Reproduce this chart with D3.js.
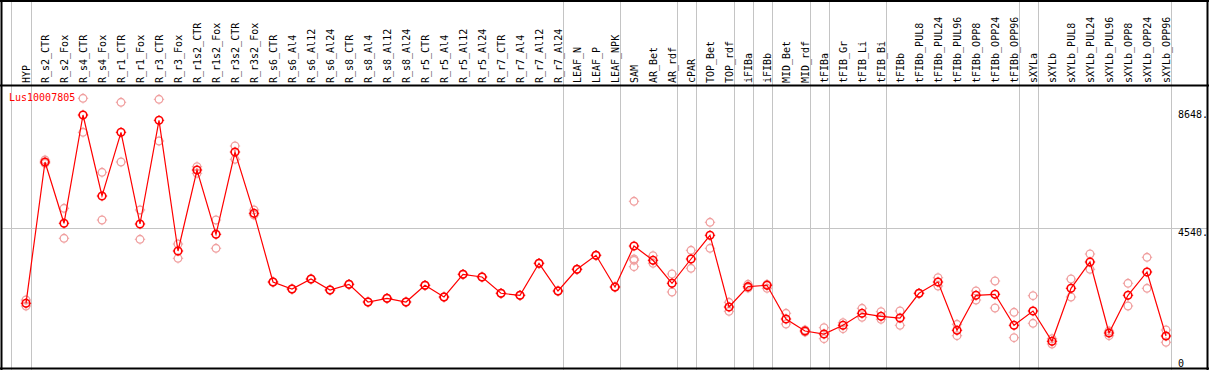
<!DOCTYPE html>
<html><head><meta charset="utf-8">
<script src="https://cdn.jsdelivr.net/npm/d3@7"></script>
<style>html,body{margin:0;padding:0;background:#fff;}svg{display:block;}</style>
</head><body>
<svg id="chart" width="1209" height="370"></svg>
<script>
const categories = ["HYP","R_s2_CTR","R_s2_Fox","R_s4_CTR","R_s4_Fox","R_r1_CTR","R_r1_Fox","R_r3_CTR","R_r3_Fox","R_r1s2_CTR","R_r1s2_Fox","R_r3s2_CTR","R_r3s2_Fox","R_s6_CTR","R_s6_Al4","R_s6_Al12","R_s6_Al24","R_s8_CTR","R_s8_Al4","R_s8_Al12","R_s8_Al24","R_r5_CTR","R_r5_Al4","R_r5_Al12","R_r5_Al24","R_r7_CTR","R_r7_Al4","R_r7_Al12","R_r7_Al24","LEAF_N","LEAF_P","LEAF_NPK","SAM","AR_Bet","AR_rdf","cPAR","TOP_Bet","TOP_rdf","iFIBa","iFIBb","MID_Bet","MID_rdf","tFIBa","tFIB_Gr","tFIB_Li","tFIB_Bi","tFIBb","tFIBb_PUL8","tFIBb_PUL24","tFIBb_PUL96","tFIBb_OPP8","tFIBb_OPP24","tFIBb_OPP96","sXYLa","sXYLb","sXYLb_PUL8","sXYLb_PUL24","sXYLb_PUL96","sXYLb_OPP8","sXYLb_OPP24","sXYLb_OPP96"];
const meanValues = [1934,6842,4713,8474,5661,7873,4689,8290,3751,6564,4331,7189,5060,2674,2431,2778,2396,2594,1980,2108,1980,2560,2153,2942,2848,2282,2212,3324,2362,3115,3602,2501,3924,3428,2629,3473,4296,1806,2511,2560,1389,972,868,1170,1587,1483,1424,2282,2674,997,2212,2247,1170,1667,615,2455,3369,903,2212,3022,799];
const replicateValues = [[2049,1841],[6911,6797],[5234,4192],[9054,7873],[6484,4827],[8915,6842],[5177,4157],[9019,7571],[3994,3497],[6679,6449],[4827,3845],[7397,6936],[5177,5001],[2674,2674],[2431,2431],[2778,2778],[2396,2396],[2594,2594],[1980,1980],[2108,2108],[1980,1980],[2560,2560],[2153,2153],[2942,2942],[2848,2848],[2282,2282],[2212,2212],[3324,3324],[2362,2362],[3115,3115],[3602,3602],[2501,2501],[5477,3473,3428,3206],[3588,3324],[2952,2327],[3775,3150],[4748,3845],[1969,1657],[2594,2466],[2594,2455],[1587,1216],[1007,938],[1087,705],[1261,1052],[1761,1448],[1643,1379],[1667,1170],[2282,2282],[2824,2535],[1205,809],[2362,2049],[2709,1771],[1622,740],[2198,1240],[705,521],[2778,2153],[3647,3115],[972,809],[2629,1841],[3532,2455],[1007,580]];
const separatorsAfter = ["HYP","R_r7_Al24","LEAF_NPK","AR_rdf","cPAR","TOP_rdf","iFIBa","iFIBb","MID_rdf","tFIBa","tFIB_Bi","tFIBb_OPP96","sXYLa","sXYLb_OPP96"];
const tickValues = [0, 4540, 8648];
const tickLabels = ["0", "4540.", "8648."];
const geneName = "Lus10007805";

const svg = d3.select("#chart");
const W = 1209, H = 370;
const headerBottom = 85.5;
const x = d3.scalePoint().domain(categories).range([26, 1166]);
const y = d3.scaleLinear().domain([0, 8648]).range([359, 110]);
const font = "'DejaVu Sans Mono', monospace";
const gray = "#c4c4c4";

// gray vertical separators
const sepX = [x(categories[0]) - 15.3].concat(separatorsAfter.map(c => x(c) + 4.7));
svg.append("g").selectAll("line").data(sepX).join("line")
  .attr("x1", d => Math.round(d) + 0.5).attr("x2", d => Math.round(d) + 0.5)
  .attr("y1", 0).attr("y2", H)
  .attr("stroke", gray).attr("stroke-width", 1);

// horizontal gray gridline at 4540
svg.append("line")
  .attr("x1", 1).attr("x2", 1208).attr("y1", Math.round(y(4540)) + 0.5).attr("y2", Math.round(y(4540)) + 0.5)
  .attr("stroke", gray).attr("stroke-width", 1);

// frame
const frame = svg.append("g").attr("stroke", "#000").attr("stroke-width", 2).attr("fill", "none");
frame.append("line").attr("x1", 0).attr("x2", W).attr("y1", 1).attr("y2", 1);
frame.append("line").attr("x1", 0).attr("x2", W).attr("y1", headerBottom).attr("y2", headerBottom);
frame.append("line").attr("x1", 0).attr("x2", W).attr("y1", 368.5).attr("y2", 368.5);
frame.append("line").attr("x1", 1.5).attr("x2", 1.5).attr("y1", 0).attr("y2", H);
frame.append("line").attr("x1", 1207.5).attr("x2", 1207.5).attr("y1", 0).attr("y2", H);

// header labels
svg.append("g").selectAll("text").data(categories).join("text")
  .attr("transform", d => `translate(${x(d) + 3.5},83) rotate(-90)`)
  .attr("text-anchor", "start")
  .attr("font-family", font).attr("font-size", 10).attr("fill", "#000")
  .text(d => d);

// right axis labels
svg.append("g").selectAll("text").data(tickValues).join("text")
  .attr("x", 1178).attr("y", d => y(d) + 8)
  .attr("font-family", font).attr("font-size", 10).attr("fill", "#000")
  .text((d, i) => tickLabels[i]);

// gene label
svg.append("text").attr("x", 9).attr("y", 101)
  .attr("font-family", font).attr("font-size", 10).attr("fill", "#ff0000")
  .text(geneName);

function marker(g, color, sw) {
  g.append("circle").attr("r", 3.8).attr("fill", "none").attr("stroke", color).attr("stroke-width", sw);
  g.append("path").attr("d", "M0,-5.2V-4M0,4V5.2M-5.2,0H-4M4,0H5.2")
    .attr("stroke", color).attr("stroke-width", 1).attr("fill", "none");
}

// replicate points
const reps = [];
replicateValues.forEach((arr, i) => arr.forEach(v => reps.push({c: categories[i], v})));
svg.append("g").selectAll("g").data(reps).join("g")
  .attr("transform", d => `translate(${x(d.c)},${y(d.v)})`)
  .each(function() { marker(d3.select(this), "#f0a0a0", 1.3); });

// mean line
svg.append("path")
  .datum(meanValues)
  .attr("d", d3.line().x((d, i) => x(categories[i])).y(d => y(d)))
  .attr("fill", "none").attr("stroke", "#ff0000").attr("stroke-width", 1.2);

// mean points
svg.append("g").selectAll("g").data(meanValues).join("g")
  .attr("transform", (d, i) => `translate(${x(categories[i])},${y(d)})`)
  .each(function() { marker(d3.select(this), "#ff0000", 1.6); });
</script>
</body></html>
